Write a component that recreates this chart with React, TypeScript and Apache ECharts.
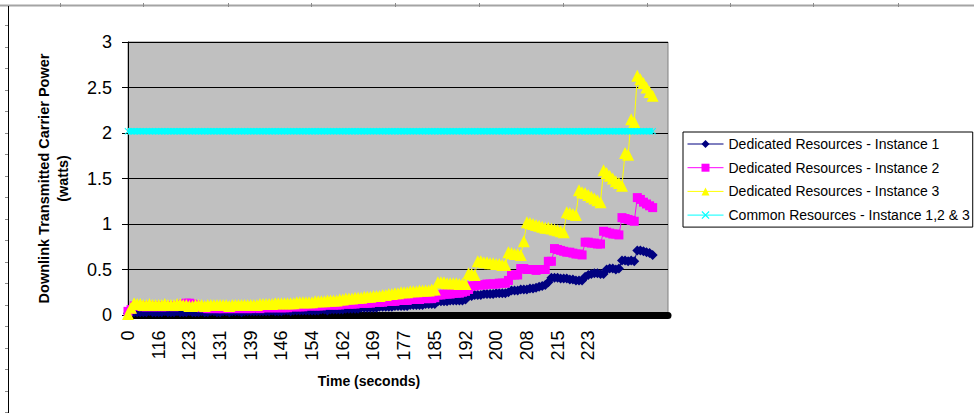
import React, { useEffect, useRef } from "react";
import * as echarts from "echarts";

// Time (seconds) categories; every 10th one is labelled on the axis
const timeLabels = [
  "0",
  "109.1", "109.8", "110.6", "111.4", "112.2", "112.9", "113.7", "114.5", "115.2",
  "116", "116.8", "117.5", "118.3", "119.1", "119.8", "120.6", "121.4", "122.1", "122.9",
  "123", "123.8", "124.5", "125.3", "126.1", "126.8", "127.6", "128.4", "129.1", "129.9",
  "131", "131.5", "132.3", "133.1", "133.8", "134.6", "135.4", "136.1", "136.9", "137.7",
  "139", "139.1", "139.9", "140.7", "141.4", "142.2", "143.0", "143.7", "144.5", "145.3",
  "146", "146.8", "147.6", "148.3", "149.1", "149.9", "150.6", "151.4", "152.2", "152.9",
  "154", "154.5", "155.3", "156.0", "156.8", "157.6", "158.3", "159.1", "159.9", "160.6",
  "162", "162.2", "163.0", "163.7", "164.5", "165.3", "166.0", "166.8", "167.6", "168.3",
  "169", "169.9", "170.6", "171.4", "172.2", "172.9", "173.7", "174.5", "175.2", "176.0",
  "177", "177.5", "178.3", "179.1", "179.8", "180.6", "181.4", "182.1", "182.9", "183.7",
  "185", "185.2", "186.0", "186.8", "187.5", "188.3", "189.1", "189.8", "190.6", "191.4",
  "192", "192.9", "193.7", "194.4", "195.2", "196.0", "196.7", "197.5", "198.3", "199.0",
  "200", "200.6", "201.3", "202.1", "202.9", "203.6", "204.4", "205.2", "205.9", "206.7",
  "208", "208.2", "209.0", "209.8", "210.5", "211.3", "212.1", "212.8", "213.6", "214.4",
  "215", "215.9", "216.7", "217.4", "218.2", "219.0", "219.7", "220.5", "221.3", "222.0",
  "223", "223.6", "224.4", "225.1", "225.9", "226.7", "227.4", "228.2", "229.0", "229.7",
  "230.5", "231.3", "232.0", "232.8", "233.6", "234.3", "235.1", "235.9", "236.6", "237.4",
  "238.2", "238.9", "239.7", "240.5", "241.2", "242.0", "242.8",
];

// Dedicated Resources - Instance 1 (watts)
const instance1 = [
  0.02, 0.03, 0.03, 0.03, 0.03, 0.03, 0.03, 0.04, 0.03, 0.03,
  0.03, 0.03, 0.04, 0.03, 0.03, 0.03, 0.04, 0.03, 0.03, 0.03,
  0.04, 0.03, 0.03, 0.03, 0.04, 0.03, 0.03, 0.04, 0.04, 0.03,
  0.03, 0.04, 0.04, 0.03, 0.04, 0.04, 0.04, 0.03, 0.04, 0.04,
  0.04, 0.04, 0.04, 0.04, 0.04, 0.04, 0.04, 0.05, 0.04, 0.04,
  0.04, 0.05, 0.05, 0.04, 0.05, 0.05, 0.05, 0.05, 0.05, 0.05,
  0.05, 0.05, 0.05, 0.06, 0.06, 0.05, 0.06, 0.06, 0.06, 0.06,
  0.06, 0.07, 0.07, 0.07, 0.07, 0.07, 0.08, 0.08, 0.08, 0.08,
  0.08, 0.08, 0.09, 0.09, 0.09, 0.09, 0.09, 0.10, 0.10, 0.10,
  0.10, 0.10, 0.11, 0.11, 0.11, 0.11, 0.11, 0.12, 0.12, 0.12,
  0.12, 0.15, 0.15, 0.15, 0.15, 0.16, 0.16, 0.16, 0.16, 0.16,
  0.17, 0.21, 0.21, 0.22, 0.22, 0.22, 0.23, 0.23, 0.23, 0.23,
  0.24, 0.24, 0.24, 0.24, 0.25, 0.27, 0.27, 0.27, 0.28, 0.28,
  0.28, 0.29, 0.29, 0.30, 0.31, 0.32, 0.33, 0.36, 0.41, 0.41,
  0.41, 0.40, 0.40, 0.40, 0.39, 0.39, 0.38, 0.38, 0.38, 0.42,
  0.44, 0.45, 0.46, 0.46, 0.45, 0.45, 0.50, 0.51, 0.51, 0.50,
  0.51, 0.60, 0.60, 0.59, 0.60, 0.59, 0.71, 0.71, 0.70, 0.69,
  0.68, 0.66,
];

// Dedicated Resources - Instance 2 (watts)
const instance2 = [
  0.04, 0.06, 0.10, 0.10, 0.10, 0.09, 0.09, 0.10, 0.09, 0.09,
  0.10, 0.09, 0.09, 0.10, 0.10, 0.09, 0.10, 0.11, 0.12, 0.13,
  0.13, 0.12, 0.11, 0.09, 0.08, 0.08, 0.07, 0.07, 0.08, 0.07,
  0.07, 0.07, 0.08, 0.07, 0.07, 0.08, 0.07, 0.07, 0.08, 0.07,
  0.07, 0.08, 0.08, 0.07, 0.08, 0.08, 0.08, 0.08, 0.08, 0.08,
  0.08, 0.08, 0.08, 0.09, 0.09, 0.09, 0.09, 0.09, 0.10, 0.10,
  0.10, 0.10, 0.10, 0.10, 0.11, 0.11, 0.11, 0.11, 0.11, 0.11,
  0.12, 0.12, 0.12, 0.12, 0.12, 0.13, 0.13, 0.13, 0.13, 0.13,
  0.14, 0.14, 0.14, 0.14, 0.15, 0.15, 0.15, 0.15, 0.16, 0.16,
  0.16, 0.16, 0.17, 0.17, 0.17, 0.17, 0.18, 0.18, 0.18, 0.18,
  0.19, 0.22, 0.22, 0.23, 0.23, 0.23, 0.24, 0.24, 0.24, 0.25,
  0.26, 0.28, 0.32, 0.32, 0.33, 0.33, 0.33, 0.34, 0.34, 0.34,
  0.34, 0.35, 0.35, 0.35, 0.38, 0.44, 0.44, 0.44, 0.51, 0.51,
  0.50, 0.50, 0.50, 0.49, 0.50, 0.50, 0.50, 0.59, 0.59, 0.73,
  0.72, 0.71, 0.70, 0.69, 0.69, 0.68, 0.67, 0.67, 0.66, 0.80,
  0.80, 0.79, 0.79, 0.78, 0.78, 0.92, 0.91, 0.90, 0.89, 0.89,
  0.88, 1.07, 1.06, 1.05, 1.04, 1.03, 1.29, 1.27, 1.24, 1.22,
  1.20, 1.18,
];

// Dedicated Resources - Instance 3 (watts)
const instance3 = [
  0.01, 0.08, 0.13, 0.12, 0.12, 0.11, 0.11, 0.12, 0.11, 0.11,
  0.11, 0.11, 0.12, 0.11, 0.11, 0.11, 0.12, 0.12, 0.11, 0.11,
  0.10, 0.10, 0.11, 0.11, 0.11, 0.10, 0.11, 0.11, 0.11, 0.11,
  0.11, 0.11, 0.11, 0.10, 0.11, 0.11, 0.11, 0.11, 0.11, 0.11,
  0.11, 0.11, 0.11, 0.12, 0.12, 0.12, 0.12, 0.12, 0.13, 0.13,
  0.13, 0.13, 0.13, 0.13, 0.13, 0.14, 0.14, 0.14, 0.14, 0.14,
  0.14, 0.15, 0.15, 0.15, 0.15, 0.16, 0.16, 0.16, 0.16, 0.17,
  0.17, 0.18, 0.18, 0.18, 0.19, 0.19, 0.19, 0.20, 0.20, 0.20,
  0.21, 0.21, 0.21, 0.22, 0.22, 0.23, 0.23, 0.24, 0.24, 0.25,
  0.25, 0.25, 0.26, 0.26, 0.26, 0.27, 0.27, 0.27, 0.27, 0.28,
  0.28, 0.36, 0.36, 0.36, 0.35, 0.35, 0.35, 0.35, 0.34, 0.34,
  0.34, 0.46, 0.45, 0.44, 0.59, 0.59, 0.58, 0.58, 0.57, 0.57,
  0.56, 0.56, 0.55, 0.55, 0.69, 0.68, 0.67, 0.67, 0.66, 0.81,
  1.02, 1.01, 1.00, 0.99, 0.98, 0.97, 0.96, 0.96, 0.95, 0.94,
  0.93, 0.92, 0.91, 1.13, 1.12, 1.11, 1.10, 1.37, 1.35, 1.34,
  1.32, 1.30, 1.28, 1.26, 1.24, 1.59, 1.56, 1.53, 1.50, 1.47,
  1.45, 1.42, 1.78, 1.76, 2.15, 2.12, 2.63, 2.59, 2.55, 2.50,
  2.45, 2.41,
];

// Common Resources - Instance 1,2 & 3 (watts)
const commonResources = [
  2.02, 2.02, 2.02, 2.02, 2.02, 2.02, 2.02, 2.02, 2.02, 2.02,
  2.02, 2.02, 2.02, 2.02, 2.02, 2.02, 2.02, 2.02, 2.02, 2.02,
  2.02, 2.02, 2.02, 2.02, 2.02, 2.02, 2.02, 2.02, 2.02, 2.02,
  2.02, 2.02, 2.02, 2.02, 2.02, 2.02, 2.02, 2.02, 2.02, 2.02,
  2.02, 2.02, 2.02, 2.02, 2.02, 2.02, 2.02, 2.02, 2.02, 2.02,
  2.02, 2.02, 2.02, 2.02, 2.02, 2.02, 2.02, 2.02, 2.02, 2.02,
  2.02, 2.02, 2.02, 2.02, 2.02, 2.02, 2.02, 2.02, 2.02, 2.02,
  2.02, 2.02, 2.02, 2.02, 2.02, 2.02, 2.02, 2.02, 2.02, 2.02,
  2.02, 2.02, 2.02, 2.02, 2.02, 2.02, 2.02, 2.02, 2.02, 2.02,
  2.02, 2.02, 2.02, 2.02, 2.02, 2.02, 2.02, 2.02, 2.02, 2.02,
  2.02, 2.02, 2.02, 2.02, 2.02, 2.02, 2.02, 2.02, 2.02, 2.02,
  2.02, 2.02, 2.02, 2.02, 2.02, 2.02, 2.02, 2.02, 2.02, 2.02,
  2.02, 2.02, 2.02, 2.02, 2.02, 2.02, 2.02, 2.02, 2.02, 2.02,
  2.02, 2.02, 2.02, 2.02, 2.02, 2.02, 2.02, 2.02, 2.02, 2.02,
  2.02, 2.02, 2.02, 2.02, 2.02, 2.02, 2.02, 2.02, 2.02, 2.02,
  2.02, 2.02, 2.02, 2.02, 2.02, 2.02, 2.02, 2.02, 2.02, 2.02,
  2.02, 2.02, 2.02, 2.02, 2.02, 2.02, 2.02, 2.02, 2.02, 2.02,
  2.02, 2.02,
];

const seriesNames = [
  "Dedicated Resources - Instance 1",
  "Dedicated Resources - Instance 2",
  "Dedicated Resources - Instance 3",
  "Common Resources - Instance 1,2 & 3",
];

const FONT = "'Liberation Sans', Arial, sans-serif";
const X_SYMBOL =
  "path://M1,0 L5,4 L9,0 L10,1 L6,5 L10,9 L9,10 L5,6 L1,10 L0,9 L4,5 L0,1 Z";

// Decorative spreadsheet frame
const topTickXs = [60, 143, 228, 311, 395, 479, 563, 647, 730, 813, 898];
const leftTickYs = [25, 47, 68, 90, 111, 133, 154, 176, 197, 219, 240, 262, 283, 305, 326, 348, 369, 391, 412];

export default function App() {
  const ref = useRef<HTMLDivElement>(null);

  useEffect(() => {
    if (!ref.current) return;
    const chart = echarts.init(ref.current, undefined, { renderer: "svg" });

    const graphic: any[] = [
      {
        type: "line",
        shape: { x1: 0, y1: 5.5, x2: 974, y2: 5.5 },
        style: { stroke: "#a4a4a4", lineWidth: 2 },
      },
      {
        type: "line",
        shape: { x1: 8.5, y1: 6, x2: 8.5, y2: 413 },
        style: { stroke: "#000", lineWidth: 1 },
      },
      ...topTickXs.map((x) => ({
        type: "line",
        shape: { x1: x + 0.5, y1: 3, x2: x + 0.5, y2: 7 },
        style: { stroke: "#8a8a8a", lineWidth: 1 },
      })),
      ...leftTickYs.map((y) => ({
        type: "line",
        shape: { x1: 5, y1: y + 0.5, x2: 8, y2: y + 0.5 },
        style: { stroke: "#8a8a8a", lineWidth: 1 },
      })),
      {
        type: "text",
        x: 369,
        y: 381,
        style: {
          text: "Time (seconds)",
          fill: "#000",
          font: `bold 14px ${FONT}`,
          align: "center",
          verticalAlign: "middle",
        },
      },
    ];

    const lineSeries = (
      name: string,
      data: number[],
      color: string,
      symbol: string,
      symbolSize: number
    ) => ({
      name,
      type: "line",
      data,
      symbol,
      symbolSize,
      showAllSymbol: true,
      lineStyle: { color, width: 1 },
      itemStyle: { color, borderWidth: 0 },
      emphasis: { disabled: true },
      silent: true,
    });

    chart.setOption({
      animation: false,
      backgroundColor: "#ffffff",
      textStyle: { fontFamily: FONT },
      grid: {
        left: 128,
        top: 42,
        width: 540,
        height: 273,
        show: true,
        backgroundColor: "#C0C0C0",
        borderColor: "#808080",
        borderWidth: 1,
      },
      xAxis: {
        type: "category",
        data: timeLabels,
        boundaryGap: false,
        offset: 3.5,
        axisLine: { show: true, lineStyle: { color: "#000", width: 7 } },
        axisTick: { show: false },
        axisLabel: {
          interval: (index: number) => index % 10 === 0 && index <= 150,
          rotate: 90,
          margin: 12,
          fontSize: 18,
          color: "#000",
          fontFamily: FONT,
        },
        splitLine: { show: false },
      },
      yAxis: {
        type: "value",
        min: 0,
        max: 3,
        interval: 0.5,
        name: "Downlink Transmitted Carrier Power\n(watts)",
        nameLocation: "middle",
        nameGap: 56,
        nameTextStyle: {
          fontSize: 14.5,
          fontWeight: "bold",
          color: "#000",
          fontFamily: FONT,
          lineHeight: 19,
        },
        axisLine: { show: true, lineStyle: { color: "#000", width: 1 } },
        axisTick: { show: true, length: 6, lineStyle: { color: "#000" } },
        axisLabel: { margin: 16, fontSize: 18, color: "#000", fontFamily: FONT },
        splitLine: { show: true, lineStyle: { color: "#000", width: 1 } },
      },
      legend: {
        orient: "vertical",
        left: 683,
        top: 132,
        padding: [5, 3, 5, 4],
        itemWidth: 36,
        itemHeight: 10,
        itemGap: 9.7,
        borderColor: "#000",
        borderWidth: 1,
        backgroundColor: "#fff",
        lineStyle: { width: 1 },
        textStyle: { fontSize: 14, color: "#000", fontFamily: FONT },
        data: seriesNames,
      },
      series: [
        lineSeries(seriesNames[0], instance1, "#000080", "diamond", 10),
        lineSeries(seriesNames[1], instance2, "#FF00FF", "rect", 9),
        lineSeries(seriesNames[2], instance3, "#FFFF00", "triangle", 12),
        {
          ...lineSeries(seriesNames[3], commonResources, "#00FFFF", X_SYMBOL, 7),
          lineStyle: { color: "#00FFFF", width: 6 },
        },
      ],
      graphic,
    });

    return () => chart.dispose();
  }, []);

  return (
    <div
      ref={ref}
      style={{ position: "absolute", left: 0, top: 0, width: 974, height: 413 }}
    />
  );
}
